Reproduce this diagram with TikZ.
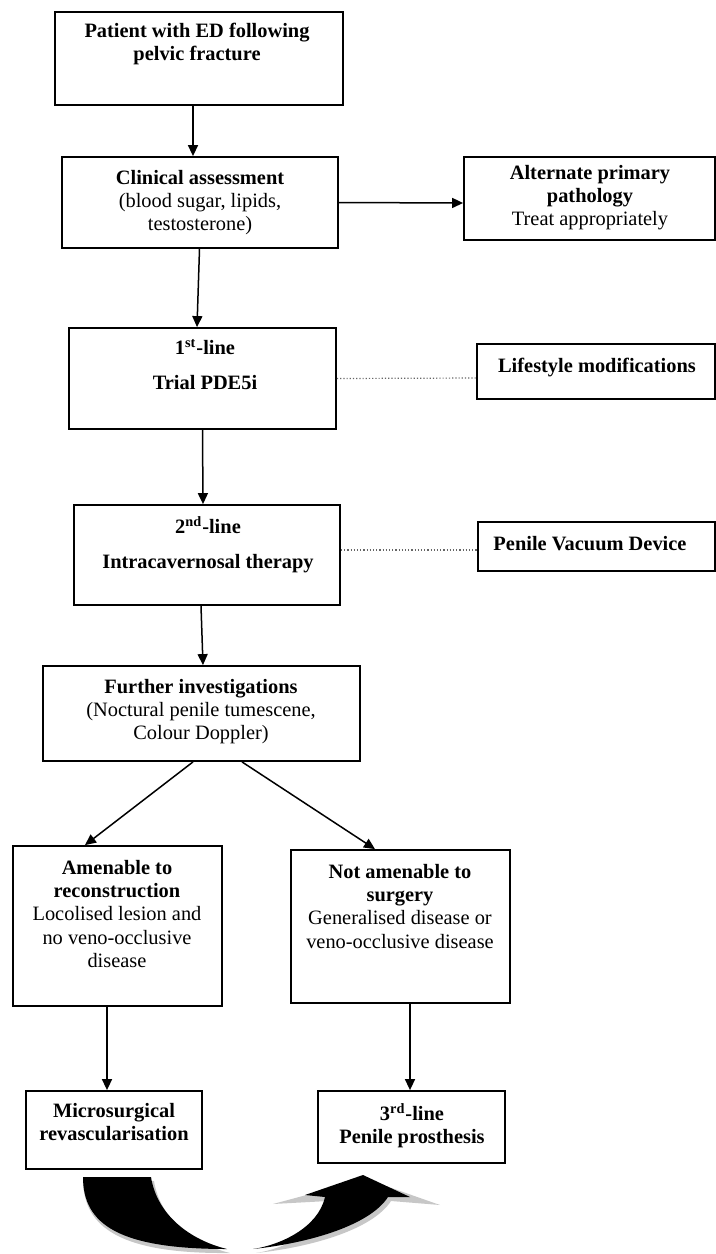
\documentclass[tikz,border=0pt]{standalone}
\usepackage{fontspec}
\setmainfont{Liberation Serif}
\usetikzlibrary{arrows.meta}
\tikzset{
  box/.style={draw, line width=0.9pt, inner sep=0pt},
  txt/.style={align=center, anchor=north, inner sep=0pt, font=\fontsize{10.2}{11.6}\selectfont},
  arr/.style={line width=0.75pt, -{Triangle[length=5.5pt,width=5pt]}},
  dots/.style={densely dotted, line width=0.6pt, black!60},
}
\begin{document}
\begin{tikzpicture}[x=0.5pt,y=-0.5pt]
\useasboundingbox (0,0) rectangle (716,1254);
% boxes
\node[box, minimum width=144pt, minimum height=46.5pt] (b1) at (199,58.5) {};
\node[box, minimum width=138pt, minimum height=45.5pt] (b2) at (200,202.5) {};
\node[box, minimum width=125.5pt, minimum height=41.5pt] (b3) at (589.5,198.5) {};
\node[box, minimum width=133.5pt, minimum height=50.5pt] (b4) at (202.5,378.5) {};
\node[box, minimum width=119pt, minimum height=27.5pt] (b5) at (596,371.5) {};
\node[box, minimum width=133pt, minimum height=50pt] (b6) at (207,555) {};
\node[box, minimum width=118.5pt, minimum height=24.5pt] (b7) at (596.5,546.5) {};
\node[box, minimum width=158.5pt, minimum height=47.5pt] (b8) at (201.5,713.5) {};
\node[box, minimum width=104.5pt, minimum height=80pt] (b9) at (117.5,926) {};
\node[box, minimum width=109.5pt, minimum height=76.5pt] (b10) at (400.5,926.5) {};
\node[box, minimum width=88pt, minimum height=39pt] (b11) at (114,1130) {};
\node[box, minimum width=93.5pt, minimum height=36pt] (b12) at (411.5,1127) {};
% texts
\node[txt] (t1) at (197,23) {\textbf{Patient with ED following}\\\textbf{pelvic fracture}};
\node[txt] (t2) at (200,170) {\textbf{Clinical assessment}\\(blood sugar, lipids,\\testosterone)};
\node[txt] (t3) at (590,165) {\textbf{Alternate primary}\\\textbf{pathology}\\Treat appropriately};
\node[txt] (t4) at (205,339) {\textbf{1\textsuperscript{st}-line}\\[6pt]\textbf{Trial PDE5i}};
\node[txt] (t5) at (597,358) {\textbf{Lifestyle modifications}};
\node[txt] (t6) at (208,516) {\textbf{2\textsuperscript{nd}-line}\\[6pt]\textbf{Intracavernosal therapy}};
\node[txt] (t7) at (590,536) {\textbf{Penile Vacuum Device}};
\node[txt] (t8) at (201,679) {\textbf{Further investigations}\\(Noctural penile tumescene,\\Colour Doppler)};
\node[txt] (t9) at (117,860) {\textbf{Amenable to}\\\textbf{reconstruction}\\Locolised lesion and\\no veno-occlusive\\disease};
\node[txt] (t10) at (400,864) {\textbf{Not amenable to}\\\textbf{surgery}\\Generalised disease or\\veno-occlusive disease};
\node[txt] (t11) at (114,1103) {\textbf{Microsurgical}\\\textbf{revascularisation}};
\node[txt] (t12) at (412,1103) {\textbf{3\textsuperscript{rd}-line}\\\textbf{Penile prosthesis}};
% connectors
\draw[arr] ([xshift=-3pt]b1.south) -- ([xshift=-3.5pt]b2.north);
\draw[arr] (b2.east) -- ([yshift=-2.25pt]b3.west);
\draw[arr] ([xshift=-0.25pt]b2.south) -- ([xshift=-2.75pt]b4.north);
\draw[dots] (b4.east) -- ([yshift=-3.25pt]b5.west);
\draw[arr] (b4.south) -- ([xshift=-2pt]b6.north);
\draw[dots] ([yshift=2.5pt]b6.east) -- ([yshift=-1.75pt]b7.west);
\draw[arr] ([xshift=-3pt]b6.south) -- ([xshift=0.75pt]b8.north);
\draw[arr] ([xshift=-4.25pt]b8.south) -- ([xshift=-16.25pt]b9.north);
\draw[arr] ([xshift=20.25pt]b8.south) -- ([xshift=-12.75pt]b10.north);
\draw[arr] ([xshift=-5.25pt]b9.south) -- ([xshift=-3.5pt]b11.north);
\draw[arr] ([xshift=4.75pt]b10.south) -- ([xshift=-0.75pt]b12.north);
% curved block arrow (shadow then black)
\begin{scope}[shift={(3,4)}]
\fill[black!22] (80,1175) .. controls (80,1225) and (120,1250) .. (227,1249) .. controls (190,1240) and (157,1215) .. (151,1177) -- cycle;
\fill[black!22] (253,1249) .. controls (310,1243) and (370,1225) .. (388,1197) -- (437,1201) -- (363,1175) -- (270,1200) -- (325,1197) .. controls (318,1228) and (280,1245) .. (253,1249) -- cycle;
\end{scope}
\fill[black] (83,1177) .. controls (83,1225) and (120,1249) .. (227,1249) .. controls (190,1240) and (157,1215) .. (151,1177) -- cycle;
\fill[black] (253,1249) .. controls (310,1243) and (370,1225) .. (388,1197) -- (410,1197) -- (363,1175) -- (305,1195) -- (325,1197) .. controls (318,1228) and (280,1245) .. (253,1249) -- cycle;
\end{tikzpicture}
\end{document}
